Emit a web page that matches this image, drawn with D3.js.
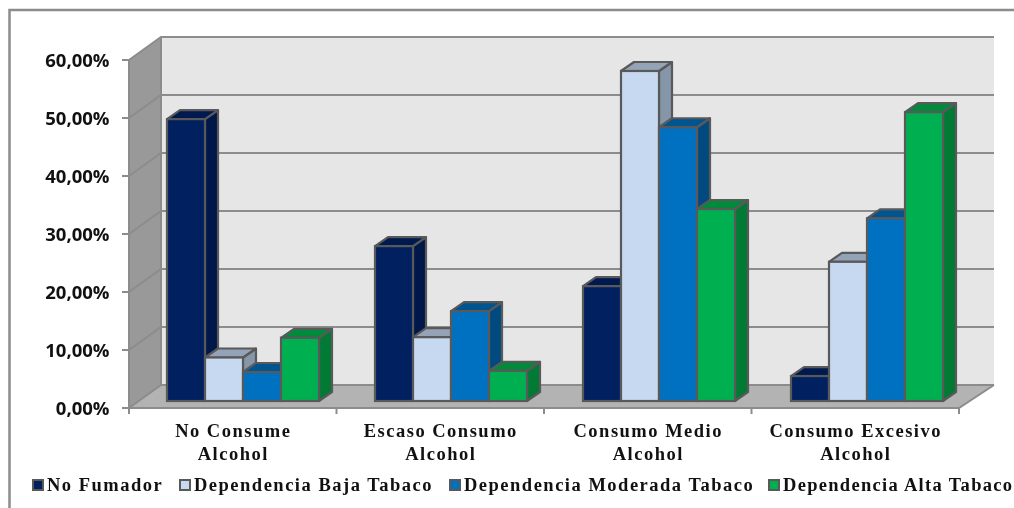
<!DOCTYPE html>
<html><head><meta charset="utf-8">
<script src="https://cdn.jsdelivr.net/npm/d3@7/dist/d3.min.js"></script>
<style>html,body{margin:0;padding:0;background:#fff;overflow:hidden}svg{display:block;filter:blur(0.4px)}</style>
</head><body><svg id="c" width="1014" height="508"></svg>
<script>
const categories = [["No Consume","Alcohol"],["Escaso Consumo","Alcohol"],["Consumo Medio","Alcohol"],["Consumo Excesivo","Alcohol"]];
const seriesNames = ["No Fumador","Dependencia Baja Tabaco","Dependencia Moderada Tabaco","Dependencia Alta Tabaco"];
const noFumador = [48.6,26.7,19.8,4.3];
const depBaja = [7.5,11,56.9,24];
const depModerada = [5,15.5,47.2,31.5];
const depAlta = [10.9,5.2,33.1,49.8];
const seriesValues = [noFumador,depBaja,depModerada,depAlta];
const yTicks = [0,10,20,30,40,50,60];
const frontColors = ["#002060","#c6d9f1","#0070c0","#00b050"];
const topColors = ["#001a50","#94a3b8","#005490","#008a3c"];
const sideColors = ["#00174a","#8496a8","#004a80","#007a35"];

const W=1014,H=508,left=129,right=959,backLeft=161,backRight=994,top0=60,bottom=408,wallDy=-23,barDx=13,barDy=-9,offDx=10,offDy=-7;
const svg=d3.select("#c");
const y=d3.scaleLinear().domain([0,60]).range([bottom,top0]);
const x0=d3.scaleBand().domain(d3.range(4)).range([left,right]);
const xBar=d3.scaleBand().domain(d3.range(4)).range([left,left+832]);
const x1=d3.scaleBand().domain(d3.range(4)).range([28,28+152]);
const poly=(pts,f,s,sw)=>svg.append("polygon").attr("points",pts.map(p=>p.join(",")).join(" ")).attr("fill",f).attr("stroke",s||"none").attr("stroke-width",sw||0).attr("stroke-linejoin","round");

// chart frame
svg.append("path").attr("d",`M9.5,508V10H1014`).attr("fill","none").attr("stroke","#8c8c8c").attr("stroke-width",2.5);

// walls and floor
poly([[backLeft,y(60)+wallDy],[backRight,y(60)+wallDy],[backRight,bottom+wallDy],[backLeft,bottom+wallDy]],"#e6e6e6");
poly([[left,y(60)],[backLeft,y(60)+wallDy],[backLeft,bottom+wallDy],[left,bottom]],"#999999");
poly([[left,bottom],[backLeft,bottom+wallDy],[backRight,bottom+wallDy],[right,bottom]],"#b3b3b3");

// gridlines
const gl=svg.append("g").attr("fill","none").attr("stroke","#8c8c8c").attr("stroke-width",2);
yTicks.forEach(t=>{
  gl.append("path").attr("d",`M${left},${y(t)}L${backLeft},${y(t)+wallDy}H${backRight}`);
});
gl.append("path").attr("d",`M${backLeft},${y(60)+wallDy}V${bottom+wallDy}`);
gl.append("path").attr("d",`M${left},${y(60)}V${bottom}H${right}L${backRight},${bottom+wallDy}`);

// ticks
yTicks.forEach(t=>svg.append("line").attr("x1",left-7).attr("x2",left).attr("y1",y(t)).attr("y2",y(t)).attr("stroke","#8c8c8c").attr("stroke-width",2));
d3.range(5).forEach(i=>{const xx=left+i*x0.bandwidth();svg.append("line").attr("x1",xx).attr("x2",xx).attr("y1",bottom).attr("y2",bottom+6).attr("stroke","#8c8c8c").attr("stroke-width",2);});

// bars
categories.forEach((c,ci)=>{
  seriesValues.forEach((vals,si)=>{
    const xa=xBar(ci)+offDx+x1(si), xb=xa+x1.bandwidth();
    const yb=bottom+offDy, yt=y(vals[ci])+offDy;
    const sk="#595959";
    poly([[xb,yb],[xb+barDx,yb+barDy],[xb+barDx,yt+barDy],[xb,yt]],sideColors[si],sk,2.2);
    poly([[xa,yt],[xa+barDx,yt+barDy],[xb+barDx,yt+barDy],[xb,yt]],topColors[si],sk,2.2);
    svg.append("rect").attr("x",xa).attr("y",yt).attr("width",xb-xa).attr("height",yb-yt).attr("fill",frontColors[si]).attr("stroke",sk).attr("stroke-width",2.2);
  });
});

// y labels
const fmt=t=>d3.format(".2f")(t).replace(".",",")+"%";
yTicks.forEach(t=>svg.append("text").attr("x",109.5).attr("y",y(t)+6.5).attr("text-anchor","end")
  .attr("font-family","'Open Sans'").attr("font-weight",700).attr("font-size",18.5).attr("fill","#111").text(fmt(t)));

// category labels
categories.forEach((c,ci)=>{
  c.forEach((line,li)=>svg.append("text").attr("x",x0(ci)+x0.bandwidth()/2+0.5).attr("y",437+li*23).attr("text-anchor","middle")
    .attr("font-family","'Liberation Serif'").attr("font-weight",700).attr("font-size",18.5).attr("letter-spacing",1.5).attr("fill","#111").text(line));
});

// legend
const legendX=[32,179,449,768];
const legendSpacing=[1.5,1.5,1.5,1.3];
seriesNames.forEach((n,i)=>{
  svg.append("rect").attr("x",legendX[i]+1).attr("y",480).attr("width",10).attr("height",10).attr("fill",frontColors[i]).attr("stroke","#595959").attr("stroke-width",2);
  svg.append("text").attr("x",legendX[i]+15).attr("y",491).attr("font-family","'Liberation Serif'").attr("font-weight",700).attr("font-size",18.5).attr("letter-spacing",legendSpacing[i]).attr("fill","#111").text(n);
});
</script></body></html>
